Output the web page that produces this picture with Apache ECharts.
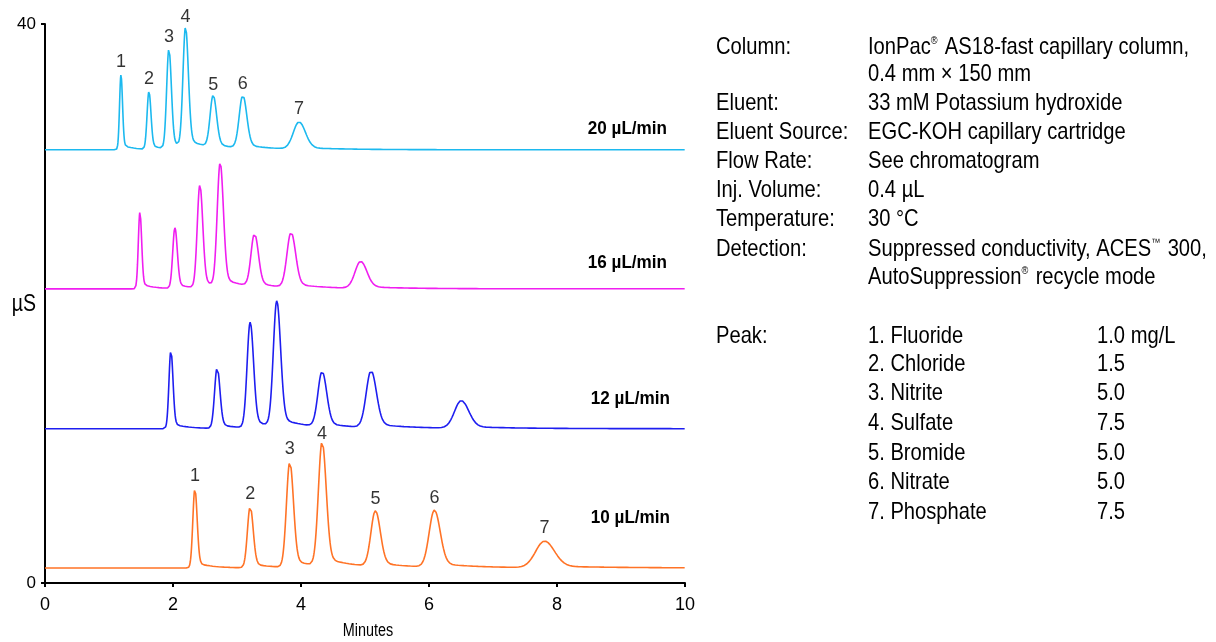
<!DOCTYPE html>
<html>
<head>
<meta charset="utf-8">
<script src="https://cdn.jsdelivr.net/npm/echarts@6/dist/echarts.min.js"></script>
<style>
  html, body { margin: 0; padding: 0; background: #fff; }
  #chart { width: 1216px; height: 642px; }
</style>
</head>
<body>
<div id="chart"></div>
<script>
// Peak tables for each flow rate: retention time (min), peak height above
// baseline (µS) and peak width (sigma, min). Traces are offset vertically.
const flowLabels = ['20 µL/min', '16 µL/min', '12 µL/min', '10 µL/min'];
const baselines  = [31.0, 21.05, 11.04, 1.07];

const rt20  = [1.187, 1.624, 1.936, 2.196, 2.628, 3.091, 3.970];
const ht20  = [5.36, 4.14, 7.15, 8.58, 3.71, 3.79, 1.95];
const sg20  = [0.022, 0.029, 0.035, 0.040, 0.048, 0.056, 0.090];

const rt16  = [1.483, 2.030, 2.420, 2.737, 3.274, 3.845, 4.933];
const ht16  = [5.49, 4.34, 7.37, 8.82, 3.77, 3.94, 1.93];
const sg16  = [0.025, 0.034, 0.041, 0.046, 0.055, 0.064, 0.088];

const rt12  = [1.967, 2.690, 3.206, 3.622, 4.330, 5.095, 6.505];
const ht12  = [5.60, 4.36, 7.56, 8.96, 3.95, 4.07, 1.98];
const sg12  = [0.030, 0.040, 0.048, 0.054, 0.065, 0.076, 0.106];

const rt10  = [2.342, 3.206, 3.825, 4.330, 5.163, 6.085, 7.806];
const ht10  = [5.68, 4.39, 7.56, 8.89, 3.98, 4.08, 1.91];
const sg10  = [0.032, 0.043, 0.052, 0.058, 0.070, 0.082, 0.140];

const peakNumbers = ['1', '2', '3', '4', '5', '6', '7'];
const traceColors = ['#1cb9ef', '#f01ef0', '#1e1ef0', '#ff7326'];

const conditions = [
  ['Column:', 'IonPac{sup|®} AS18-fast capillary column,'],
  ['', '0.4 mm × 150 mm'],
  ['Eluent:', '33 mM Potassium hydroxide'],
  ['Eluent Source:', 'EGC-KOH capillary cartridge'],
  ['Flow Rate:', 'See chromatogram'],
  ['Inj. Volume:', '0.4 µL'],
  ['Temperature:', '30 °C'],
  ['Detection:', 'Suppressed conductivity, ACES{sup|™} 300,'],
  ['', 'AutoSuppression{sup|®} recycle mode']
];
const conditionRows = [47, 74, 103, 132, 161, 190, 219, 249, 277];

const peakNames = ['1. Fluoride', '2. Chloride', '3. Nitrite', '4. Sulfate',
                   '5. Bromide', '6. Nitrate', '7. Phosphate'];
const peakConc  = ['1.0 mg/L', '1.5', '5.0', '7.5', '5.0', '5.0', '7.5'];
const peakRows  = [336, 364, 393, 423, 453, 482, 512];

const FONT = "'Liberation Sans', Arial, sans-serif";
const CONDENSE = 0.84;   // horizontal squeeze for the narrow annotation type

// Slightly tailing chromatographic peak shape
function peakShape(t, t0, h, s) {
  const d = t - t0;
  if (d <= 0) return h * Math.exp(-0.5 * (d / s) * (d / s));
  const sr = 1.1 * s;
  return h * (0.93 * Math.exp(-0.5 * (d / sr) * (d / sr)) + 0.07 * Math.exp(-d / (8 * s)));
}

function buildTrace(base, rts, hts, sgs) {
  const pts = [];
  for (let i = 0; i <= 2000; i++) {
    const t = i * 0.005;
    let y = base;
    for (let k = 0; k < rts.length; k++) y += peakShape(t, rts[k], hts[k], sgs[k]);
    pts.push([+t.toFixed(3), y]);
  }
  return pts;
}

const tables = [
  [rt20, ht20, sg20],
  [rt16, ht16, sg16],
  [rt12, ht12, sg12],
  [rt10, ht10, sg10]
];

const series = tables.map((tb, i) => ({
  type: 'line',
  data: buildTrace(baselines[i], tb[0], tb[1], tb[2]),
  showSymbol: false,
  symbol: 'none',
  sampling: null,
  lineStyle: { color: traceColors[i], width: 1.6 },
  z: 2
}));

// Peak number labels on the 20 and 10 µL/min traces
function peakLabels(idx, special) {
  const tb = tables[idx];
  return {
    type: 'scatter',
    symbolSize: 0,
    silent: true,
    data: tb[0].map((t, k) => {
      const d = { value: [t, baselines[idx] + tb[1][k]], name: peakNumbers[k] };
      if (special && special[k] !== undefined) d.label = { distance: special[k] };
      return d;
    }),
    label: {
      show: true,
      position: 'top',
      distance: 4,
      formatter: p => p.name,
      fontFamily: FONT,
      fontSize: 18,
      color: '#000'
    },
    z: 3
  };
}
series.push(peakLabels(0));
series.push(peakLabels(3, { 3: 1 }));

const graphics = [];
// Flow-rate captions, right-aligned near the end of each trace
const flowY = [129, 263, 399, 518];
const flowX = [667, 667, 670, 670];
flowLabels.forEach((txt, i) => {
  graphics.push({
    type: 'text', x: flowX[i], y: flowY[i], scaleX: 0.9,
    style: { text: txt, fontFamily: FONT, fontWeight: 'bold', fontSize: 19,
             fill: '#000', align: 'right', verticalAlign: 'middle' }
  });
});

// Axis titles
graphics.push({
  type: 'text', x: 24, y: 305, scaleX: 0.85,
  style: { text: 'µS', fontFamily: FONT, fontSize: 23, fill: '#000',
           align: 'center', verticalAlign: 'middle' }
});
graphics.push({
  type: 'text', x: 368, y: 631, scaleX: 0.8,
  style: { text: 'Minutes', fontFamily: FONT, fontSize: 18, fill: '#000',
           align: 'center', verticalAlign: 'middle' }
});

const rich = { sup: { fontSize: 11, verticalAlign: 'top', fontFamily: FONT, fill: '#000', padding: [0, 2, 0, 0] } };
function infoText(x, y, txt) {
  graphics.push({
    type: 'text', x: x, y: y, scaleX: CONDENSE,
    style: { text: txt, fontFamily: FONT, fontSize: 24, fill: '#000',
             verticalAlign: 'middle', rich: rich }
  });
}
conditions.forEach((row, i) => {
  if (row[0]) infoText(716, conditionRows[i], row[0]);
  infoText(868, conditionRows[i], row[1]);
});
infoText(716, peakRows[0], 'Peak:');
peakNames.forEach((nm, i) => {
  infoText(868, peakRows[i], nm);
  infoText(1097, peakRows[i], peakConc[i]);
});

const chart = echarts.init(document.getElementById('chart'), null, { renderer: 'canvas' });
chart.setOption({
  animation: false,
  backgroundColor: '#ffffff',
  grid: { left: 45, right: 531, top: 24, bottom: 59, containLabel: false, outerBoundsMode: 'none' },
  xAxis: {
    type: 'value',
    min: 0, max: 10, interval: 2,
    axisLine: { lineStyle: { color: '#000', width: 2 } },
    axisTick: { show: true, length: 4, lineStyle: { color: '#000', width: 2 } },
    axisLabel: { fontFamily: FONT, fontSize: 18, color: '#000', margin: 13 },
    splitLine: { show: false }
  },
  yAxis: {
    type: 'value',
    min: 0, max: 40, interval: 40,
    axisLine: { show: true, lineStyle: { color: '#000', width: 2 } },
    axisTick: { show: true, length: 4, lineStyle: { color: '#000', width: 2 } },
    axisLabel: { fontFamily: FONT, fontSize: 17, color: '#000', margin: 9 },
    splitLine: { show: false }
  },
  series: series,
  graphic: graphics
});
</script>
</body>
</html>
